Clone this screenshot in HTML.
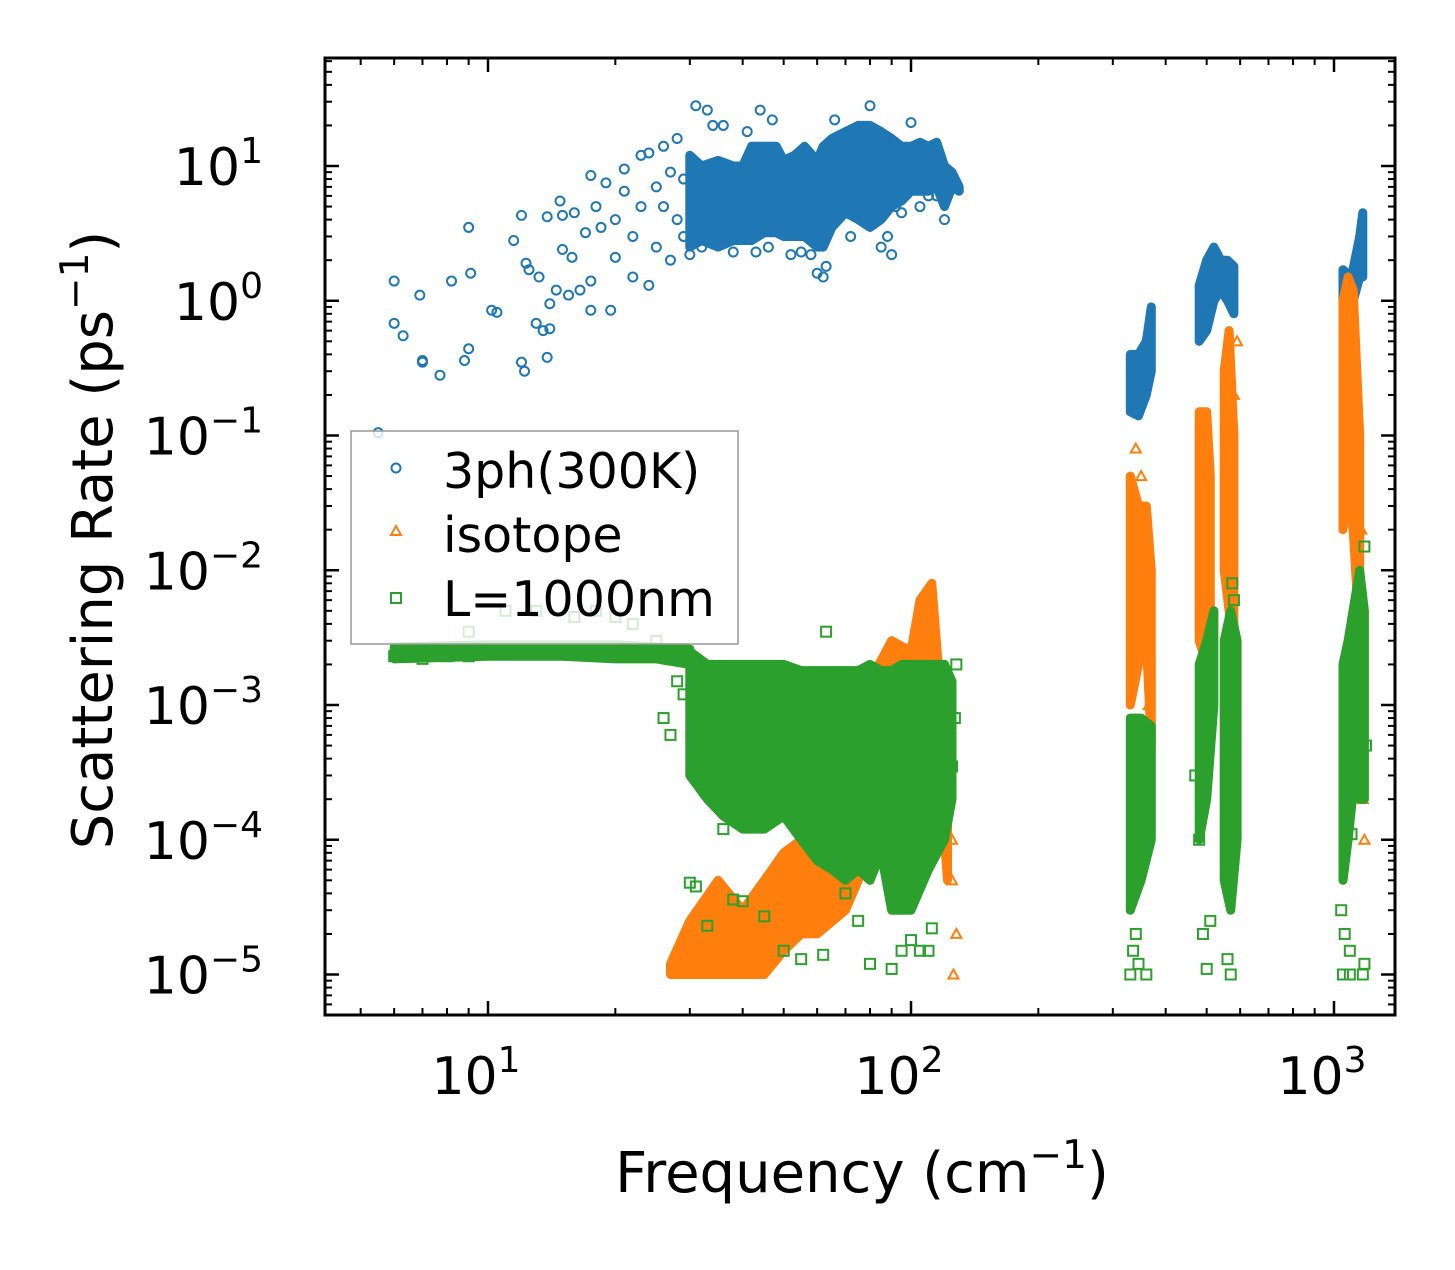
<!DOCTYPE html>
<html><head><meta charset="utf-8"><style>
html,body{margin:0;padding:0;background:#fff;}
svg text{font-family:"DejaVu Sans","Liberation Sans",sans-serif;fill:#000;}
</style></head><body>
<svg id="chart" width="1455" height="1265" viewBox="0 0 1455 1265" xmlns="http://www.w3.org/2000/svg">
<g id="marks"></g>
<g id="axes"></g>
<g id="legend">
<rect x="351" y="431" width="387" height="213" fill="#fff" fill-opacity="0.8" stroke="#999" stroke-width="1.5"/>
<circle cx="396" cy="468" r="4.5" fill="none" stroke="#1f77b4" stroke-width="2"/>
<text x="443" y="488" font-size="49">3ph(300K)</text>
<path d="M396,526 L401,535 L391,535 Z" fill="none" stroke="#ff7f0e" stroke-width="2"/>
<text x="443" y="552" font-size="49">isotope</text>
<rect x="391" y="593" width="10" height="10" fill="none" stroke="#2ca02c" stroke-width="2"/>
<text x="443" y="616" font-size="49">L=1000nm</text>
</g>
<text x="862" y="1192" font-size="56" text-anchor="middle">Frequency (cm<tspan dy="-24" font-size="39">−1</tspan><tspan dy="24">)</tspan></text>
<text transform="translate(112,540) rotate(-90)" font-size="56" text-anchor="middle">Scattering Rate (ps<tspan dy="-24" font-size="39">−1</tspan><tspan dy="24">)</tspan></text>
</svg>
<script>
// ---- data ----
const blueSparseX=[6,6,6.3,6.9,7,7,7.7,8.2,8.8,9,9,9.1,10.2,10.5,11.5,12,12,12.2,12.3,12.5,13,13.2,13.5,13.8,13.8,14,14,14.5,14.8,15,15,15.5,15.8,16,16.5,17,17.5,17.5,17.5,18,18.5,19,19.5,20,20,21,21,22,22,23,23,24,24,25,25,26,26,27,27,28,28,29,29,5.5,31,33,36,44,47,52,60,62,63,80,90,92,100,115,120,128,30,32,34,38,41,43,46,55,58,66,72,85,88,95,105,110];
const blueSparseY=[1.4,0.68,0.55,1.1,0.35,0.36,0.28,1.4,0.36,0.44,3.5,1.6,0.85,0.82,2.8,4.3,0.35,0.3,1.9,1.7,0.68,1.5,0.6,4.2,0.38,0.62,0.95,1.2,5.5,4.3,2.4,1.1,2.1,4.5,1.2,3.2,1.4,8.5,0.85,5,3.5,7.5,0.85,2.1,4,6.5,9.5,1.5,3,12,5,12.5,1.3,2.5,7,5,14,9,2,16,4,3,8,0.105,28,26,20,26,22,2.2,1.6,1.5,1.8,28,2.2,5,21,6,4,7,2.2,2.5,20,2.3,18,2.3,2.5,2.3,2.2,22,3,2.5,3,4.5,5,6];
const blueBandX=[30,32,35,38,40,42,45,48,50,53,56,60,62,65,70,75,80,85,90,95,100,105,110,115,120,125,130, 330,345,360,370, 480,500,520,540,560,580, 1050,1100,1150,1170];
const blueBandLo=[2.5,2.8,2.5,2.8,2.8,2.8,3.2,3.2,3,3,3,2.5,2.5,3.5,4.5,4,3.5,4,5,5.5,6.5,6.5,6.5,7,5,7,6.5, 0.15,0.14,0.2,0.3, 0.5,0.6,1,1.2,1,0.8, 0.8,0.9,1.5,1.5];
const blueBandHi=[12,10,11,10,10,14,14,14,11,12,14,11,14,16,18,20,20,18,16,14,14,15,14,15,10,9,7, 0.4,0.4,0.5,0.9, 1.3,2,2.5,2,2,1.8, 1.7,1.5,3,4.5];
const blueBandGroup=[0,0,0,0,0,0,0,0,0,0,0,0,0,0,0,0,0,0,0,0,0,0,0,0,0,0,0, 1,1,1,1, 2,2,2,2,2,2, 3,3,3,3];

const orangeBandX=[27,30,35,40,45,50,55,60,70,80,90,100,105,112,118,122, 330,345,360,370, 480,500,510, 550,565,580, 1050,1080,1110,1150];
const orangeBandLo=[1e-5,1e-5,1e-5,1e-5,1e-5,1.5e-5,2e-5,2e-5,3e-5,8e-5,1e-4,2e-4,3e-4,3e-4,2e-4,5e-5, 1e-3,2e-3,3e-3,5e-4, 3e-3,2e-3,5e-4, 1e-2,5e-3,2e-3, 0.02,0.05,0.02,3e-3];
const orangeBandHi=[1.2e-5,2.5e-5,5e-5,3e-5,5e-5,8e-5,1e-4,2e-4,5e-4,1.5e-3,3e-3,2.5e-3,6e-3,8e-3,1e-3,2e-4, 0.05,0.03,0.03,0.01, 0.15,0.15,0.05, 0.3,0.6,0.1, 1,1.5,1.2,0.1];
const orangeBandGroup=[0,0,0,0,0,0,0,0,0,0,0,0,0,0,0,0, 1,1,1,1, 2,2,2, 3,3,3, 4,4,4,4];
const orangeSparseX=[125,125,126,120,128,340,350,365,1170,1180,1160,590,580];
const orangeSparseY=[1e-4,5e-5,1e-5,3e-4,2e-5,0.08,0.05,1e-3,2e-4,1e-4,0.02,0.5,0.2];

const greenBandX=[6,10,15,20,25,30, 30,33,36,40,45,50,55,60,65,70,75,80,85,90,95,100,110,120,125, 330,350,370, 480,500,520, 550,570,590, 1050,1080,1120,1150,1180];
const greenBandLo=[2.2e-3,2.3e-3,2.3e-3,2.2e-3,2.2e-3,2e-3, 3e-4,2e-4,1.5e-4,1.2e-4,1.2e-4,1.5e-4,1e-4,7e-5,6e-5,5e-5,6e-5,5e-5,8e-5,3e-5,3e-5,3e-5,6e-5,1e-4,2e-4, 3e-5,5e-5,1e-4, 1e-4,2e-4,1e-3, 5e-5,3e-5,1e-4, 5e-5,1e-4,3e-4,2e-4,2e-4];
const greenBandHi=[2.7e-3,2.8e-3,2.8e-3,2.8e-3,2.7e-3,2.6e-3, 2.5e-3,2e-3,2e-3,2e-3,2e-3,2e-3,1.8e-3,1.8e-3,1.8e-3,1.8e-3,1.8e-3,2e-3,1.8e-3,1.8e-3,2e-3,2e-3,2e-3,2e-3,1.5e-3, 8e-4,8e-4,7e-4, 2e-3,3e-3,5e-3, 3e-3,5e-3,3e-3, 2e-3,3e-3,6e-3,1e-2,5e-3];
const greenBandGroup=[0,0,0,0,0,0, 1,1,1,1,1,1,1,1,1,1,1,1,1,1,1,1,1,1,1, 2,2,2, 3,3,3, 4,4,4, 5,5,5,5,5];
const greenSparseX=[6,7,8,9,9,11,13,14,16,18,20,22,25,28,26,27,29,30,31,33,36,38,40,45,50,55,62,63,70,75,80,90,95,100,105,110,112,127,128,125, 330,335,340,345,360, 470,480,490,500,510,560,570,575,580, 1040,1050,1060,1090,1170,1180,1190,1100,1090,1180];
const greenSparseY=[2.3e-3,2.2e-3,2.3e-3,3.5e-3,2.3e-3,5e-3,5e-3,2.5e-3,4.5e-3,5e-3,4.5e-3,4e-3,3e-3,1.5e-3,8e-4,6e-4,1.2e-3,4.8e-5,4.5e-5,2.3e-5,1.2e-4,3.6e-5,3.5e-5,2.7e-5,1.5e-5,1.3e-5,1.4e-5,3.5e-3,4e-5,2.5e-5,1.2e-5,1.1e-5,1.5e-5,1.8e-5,1.5e-5,1.5e-5,2.2e-5,8e-4,2e-3,3.5e-4, 1e-5,1.5e-5,2e-5,1.2e-5,1e-5, 3e-4,1e-4,2e-5,1.1e-5,2.5e-5,1.3e-5,1e-5,8e-3,6e-3, 3e-5,1e-5,2e-5,1.5e-5,1e-5,1.2e-5,5e-4,1.1e-4,1e-5,1.5e-2];

const xTickVals=[10,100,1000];
const xTickLabels=["10","10","10"];
const xTickExps=["1","2","3"];
const yTickVals=[10,1,0.1,0.01,0.001,1e-4,1e-5];
const yTickExps=["1","0","−1","−2","−3","−4","−5"];

// ---- scales ----
const X0=325,X1=1395,Y0=58,Y1=1015;
function sx(v){return 488+(Math.log10(v)-1)*423;}
function sy(v){return 166-(Math.log10(v)-1)*134.75;}
const NS="http://www.w3.org/2000/svg";
const marks=document.getElementById('marks');
const axes=document.getElementById('axes');
function mk(tag,attrs,parent){const e=document.createElementNS(NS,tag);for(const k in attrs)e.setAttribute(k,attrs[k]);parent.appendChild(e);return e;}

const clip=mk('clipPath',{id:'clp'},marks);
mk('rect',{x:X0,y:Y0,width:X1-X0,height:Y1-Y0},clip);
const plot=mk('g',{'clip-path':'url(#clp)'},marks);

function drawBands(xs,lo,hi,grp,color,name){
  const groups={};
  xs.forEach((x,i)=>{(groups[grp[i]]=groups[grp[i]]||[]).push(i);});
  Object.keys(groups).forEach(g=>{
    const idx=groups[g];
    let pts=idx.map(i=>sx(xs[i]).toFixed(1)+','+sy(hi[i]).toFixed(1));
    pts=pts.concat(idx.slice().reverse().map(i=>sx(xs[i]).toFixed(1)+','+sy(lo[i]).toFixed(1)));
    const p=mk('polygon',{points:pts.join(' '),fill:color,stroke:color,'stroke-width':9,'stroke-linejoin':'round'},plot);
    
    
  });
}
function drawPoints(xs,ys,kind,color,name){
  xs.forEach((x,i)=>{
    const cx=sx(x),cy=sy(ys[i]);let e;
    if(kind==='c')e=mk('circle',{cx:cx,cy:cy,r:4.5,fill:'none',stroke:color,'stroke-width':2},plot);
    else if(kind==='t')e=mk('path',{d:`M${cx},${cy-5} L${cx+5},${cy+4} L${cx-5},${cy+4} Z`,fill:'none',stroke:color,'stroke-width':2},plot);
    else e=mk('rect',{x:cx-5,y:cy-5,width:10,height:10,fill:'none',stroke:color,'stroke-width':2},plot);
    
    
  });
}
drawBands(blueBandX,blueBandLo,blueBandHi,blueBandGroup,'#1f77b4','3ph');
drawPoints(blueSparseX,blueSparseY,'c','#1f77b4','3ph');
drawBands(orangeBandX,orangeBandLo,orangeBandHi,orangeBandGroup,'#ff7f0e','isotope');
drawPoints(orangeSparseX,orangeSparseY,'t','#ff7f0e','isotope');
drawBands(greenBandX,greenBandLo,greenBandHi,greenBandGroup,'#2ca02c','boundary');
drawPoints(greenSparseX,greenSparseY,'s','#2ca02c','boundary');

// ---- axes ----
const frame=mk('rect',{x:X0,y:Y0,width:X1-X0,height:Y1-Y0,fill:'none',stroke:'#000','stroke-width':3},axes);


function tick(x1,y1,x2,y2,w){mk('line',{x1:x1,y1:y1,x2:x2,y2:y2,stroke:'#000','stroke-width':w},axes);}
for(let d=0;d<=3;d++)for(let m=1;m<=9;m++){
  const v=m*Math.pow(10,d);const x=sx(v);
  if(x<X0||x>X1)continue;
  const L=m===1?14:7,w=m===1?2.5:2;
  tick(x,Y1,x,Y1-L,w);tick(x,Y0,x,Y0+L,w);
}
for(let d=-6;d<=1;d++)for(let m=1;m<=9;m++){
  const v=m*Math.pow(10,d);const y=sy(v);
  if(y<Y0||y>Y1)continue;
  const L=m===1?14:7,w=m===1?2.5:2;
  tick(X0,y,X0+L,y,w);tick(X1,y,X1-L,y,w);
}
xTickVals.forEach((v,i)=>{
  const t=mk('text',{x:sx(v)-12,y:1094,'font-size':52,'text-anchor':'middle'},axes);
  
  
  t.textContent=xTickLabels[i];
  const s=mk('tspan',{dy:-22,'font-size':36},t);s.textContent=xTickExps[i];
});
yTickVals.forEach((v,i)=>{
  const t=mk('text',{x:263,y:sy(v)+19,'font-size':52,'text-anchor':'end'},axes);
  
  
  t.textContent='10';
  const s=mk('tspan',{dy:-22,'font-size':36},t);s.textContent=yTickExps[i];
});
</script>
</body></html>
